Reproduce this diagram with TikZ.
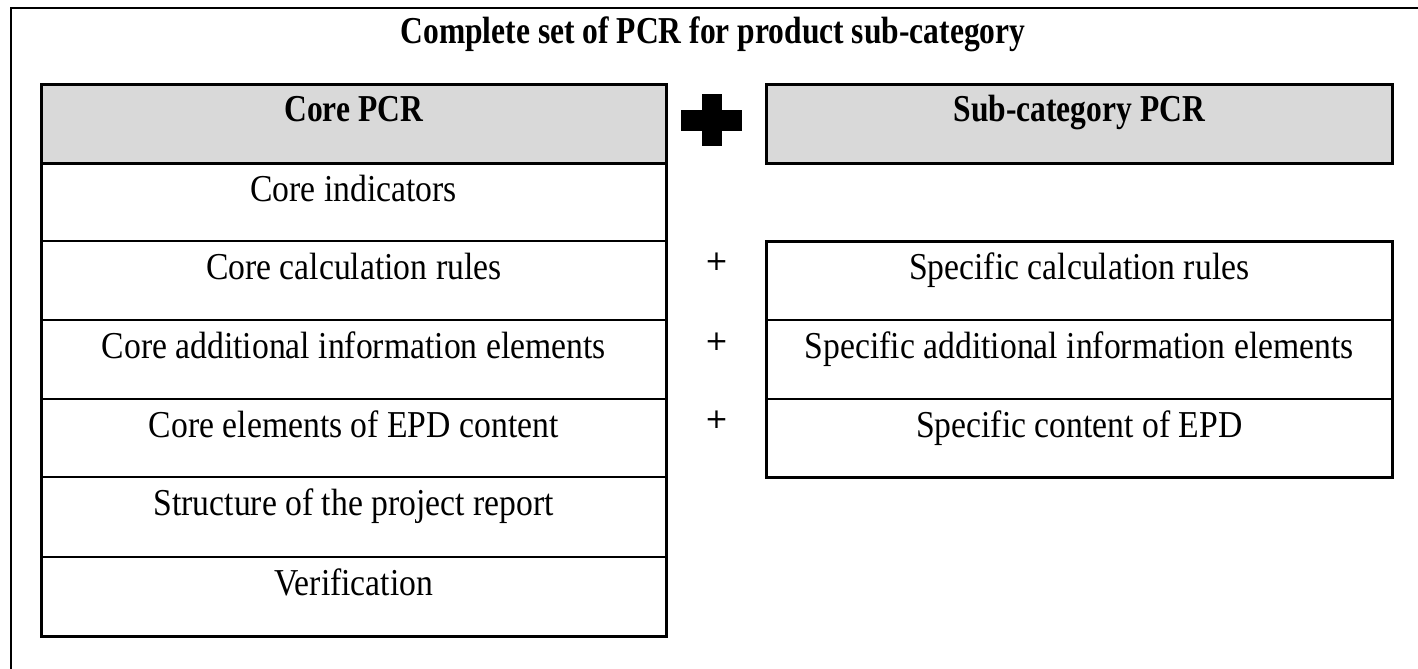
\documentclass[tikz,border=0pt]{standalone}
\usepackage{fontspec}
\setmainfont{Liberation Serif}[FakeStretch=0.886, BoldFeatures={FakeStretch=0.83}]
\newfontfamily\plusfont{DejaVu Sans}
\definecolor{headgray}{RGB}{217,217,217}
\tikzset{
  frameline/.style={line width=2.5bp, line cap=rect},
  cellbox/.style={draw, line width=2bp, inner sep=0pt, outer sep=0pt},
  headbox/.style={cellbox, fill=headgray},
  leftcol/.style={minimum width=624.5bp},
  rightcol/.style={minimum width=626.5bp},
  colframe/.style={draw, line width=3bp},
  celltext/.style={anchor=base, inner sep=0pt, font=\fontsize{38bp}{42bp}\selectfont},
  headtext/.style={celltext, font=\fontsize{38bp}{42bp}\selectfont\bfseries},
  smallplus/.style={inner sep=0pt, font={\fontsize{28bp}{32bp}\plusfont}},
}
\begin{document}
\begin{tikzpicture}[x=1bp,y=-1bp]
\useasboundingbox (0,0) rectangle (1418,669);
% outer frame (only top and left edges visible)
\coordinate (fbl) at (11,680);
\coordinate (ftr) at (1430,8);
\draw[frameline] (fbl) |- (ftr);
% title
\node[headtext] (title) at (713,44) {Complete set of PCR for product sub-category};
% left column
\node[headbox, leftcol, minimum height=78bp] (lh) at (353.75,124) {};
\node[cellbox, leftcol, minimum height=78bp] (l1) at (353.75,202) {};
\node[cellbox, leftcol, minimum height=79bp] (l2) at (353.75,280.5) {};
\node[cellbox, leftcol, minimum height=79bp] (l3) at (353.75,359.5) {};
\node[cellbox, leftcol, minimum height=78bp] (l4) at (353.75,438) {};
\node[cellbox, leftcol, minimum height=80bp] (l5) at (353.75,517) {};
\node[cellbox, leftcol, minimum height=79bp] (l6) at (353.75,596.5) {};
\draw[colframe] (lh.north west) rectangle (l6.south east);
\draw[line width=3bp] (lh.south west) -- (lh.south east);
% right column
\node[headbox, rightcol, minimum height=78bp] (rh) at (1079.25,124) {};
\node[cellbox, rightcol, minimum height=79bp] (r2) at (1079.25,280.5) {};
\node[cellbox, rightcol, minimum height=79bp] (r3) at (1079.25,359.5) {};
\node[cellbox, rightcol, minimum height=78bp] (r4) at (1079.25,438) {};
\draw[colframe] (rh.north west) rectangle (rh.south east);
\draw[colframe] (r2.north west) rectangle (r4.south east);
% texts
\node[headtext] (lht) at ([yshift=-37bp]lh.north) {Core PCR};
\node[headtext] (rht) at ([yshift=-37bp]rh.north) {Sub-category PCR};
\node[celltext] (l1t) at ([yshift=-38bp]l1.north) {Core indicators};
\node[celltext] (l2t) at ([yshift=-38bp]l2.north) {Core calculation rules};
\node[celltext] (l3t) at ([yshift=-38bp]l3.north) {Core additional information elements};
\node[celltext] (l4t) at ([yshift=-38bp]l4.north) {Core elements of EPD content};
\node[celltext] (l5t) at ([yshift=-38bp]l5.north) {Structure of the project report};
\node[celltext] (l6t) at ([yshift=-38bp]l6.north) {Verification};
\node[celltext] (r2t) at ([yshift=-38bp]r2.north) {Specific calculation rules};
\node[celltext] (r3t) at ([yshift=-38bp]r3.north) {Specific additional information elements};
\node[celltext] (r4t) at ([yshift=-38bp]r4.north) {Specific content of EPD};
% big plus
\fill (681,110) rectangle (742,131);
\fill (702,94) rectangle (722,146);
% small plus signs
\node[smallplus] (p2) at (716.5,262) {+};
\node[smallplus] (p3) at (716.5,341.5) {+};
\node[smallplus] (p4) at (716.5,419.5) {+};
\end{tikzpicture}
\end{document}
